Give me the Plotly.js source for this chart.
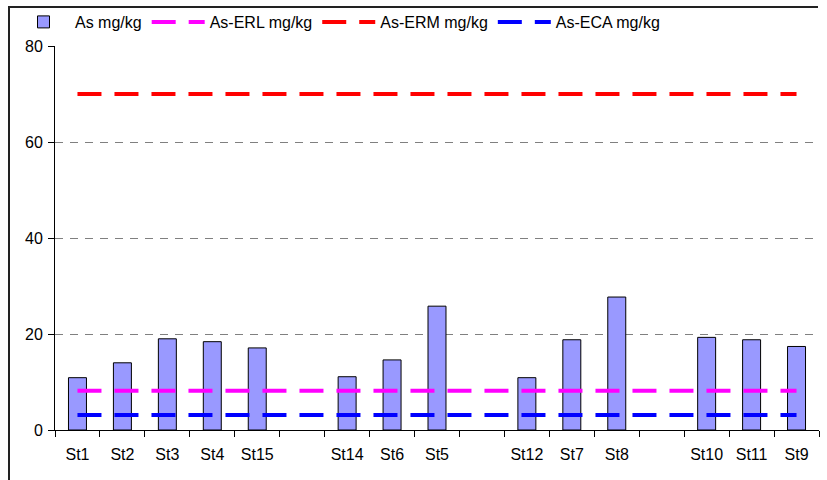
<!DOCTYPE html>
<html>
<head>
<meta charset="utf-8">
<script src="https://cdn.plot.ly/plotly-3.0.1.min.js"></script>
<style>html,body{margin:0;padding:0;background:#fff;}#chart{width:827px;height:480px;}</style>
</head>
<body>
<div id="chart"></div>
<script>
// Categories (blank slots separate station groups)
const categories = ["St1", "St2", "St3", "St4", "St15", " ", "St14", "St6", "St5", "  ", "St12", "St7", "St8", "   ", "St10", "St11", "St9"];
// Arsenic concentration (mg/kg)
const asValues = [10.9, 14.0, 19.0, 18.4, 17.1, null, 11.1, 14.6, 25.8, null, 10.9, 18.8, 27.7, null, 19.3, 18.8, 17.4];
// Guideline values (mg/kg)
const erlValue = 8.2;
const ermValue = 70;
const ecaValue = 3.1;
const yTicks = [0, 20, 40, 60, 80];

const font = {family: "Liberation Sans, Arial, sans-serif", size: 16, color: "#000"};
const dash = "24px,13px";

const traces = [
  {type: "bar", name: "As mg/kg", x: categories, y: asValues, width: 0.4,
   marker: {color: "#9999FF", line: {color: "#000", width: 1}}},
  {type: "scatter", mode: "lines", name: "As-ERL mg/kg", x: categories, y: categories.map(() => erlValue),
   line: {color: "#FF00FF", width: 4, dash: dash}},
  {type: "scatter", mode: "lines", name: "As-ERM mg/kg", x: categories, y: categories.map(() => ermValue),
   line: {color: "#FF0000", width: 4, dash: dash}},
  {type: "scatter", mode: "lines", name: "As-ECA mg/kg", x: categories, y: categories.map(() => ecaValue),
   line: {color: "#0000FF", width: 4, dash: dash}}
];

const W = 827, H = 480, ml = 55, mr = 8, mt = 46, mb = 50;
const pw = W - ml - mr, ph = H - mt - mb;
const px = v => (v - ml) / pw;
const py = v => (H - mb - v) / ph;

const layout = {
  width: W, height: H,
  margin: {l: ml, r: mr, t: mt, b: mb, pad: 0},
  paper_bgcolor: "#fff", plot_bgcolor: "#fff",
  font: font,
  showlegend: true,
  legend: {orientation: "h", xref: "container", yref: "container",
           x: 12 / W, y: 1 - 22 / H, xanchor: "left", yanchor: "middle",
           font: font, bgcolor: "rgba(0,0,0,0)", itemwidth: 53, tracegroupgap: 0},
  xaxis: {type: "category", categoryorder: "array", categoryarray: categories,
          tickson: "boundaries", ticks: "outside", ticklen: 6, tickcolor: "#000",
          showline: true, linecolor: "#000", linewidth: 1, showgrid: false,
          tickfont: font, ticklabelstandoff: 10, fixedrange: true},
  yaxis: {range: [0, 80], tickvals: yTicks, ticks: "outside", ticklen: 6, tickcolor: "#000",
          showline: true, linecolor: "#000", linewidth: 1,
          showgrid: true, gridcolor: "#808080", gridwidth: 1, griddash: "8px,7px",
          zeroline: false, tickfont: font, ticklabelstandoff: 2, fixedrange: true},
  bargap: 0.6,
  shapes: [
    {type: "path", xref: "paper", yref: "paper",
     path: `M ${px(9)} ${py(482)} L ${px(9)} ${py(7)} L ${px(818)} ${py(7)}`,
     line: {color: "#222", width: 2}}
  ]
};

Plotly.newPlot("chart", traces, layout, {displayModeBar: false, staticPlot: true});
</script>
</body>
</html>
